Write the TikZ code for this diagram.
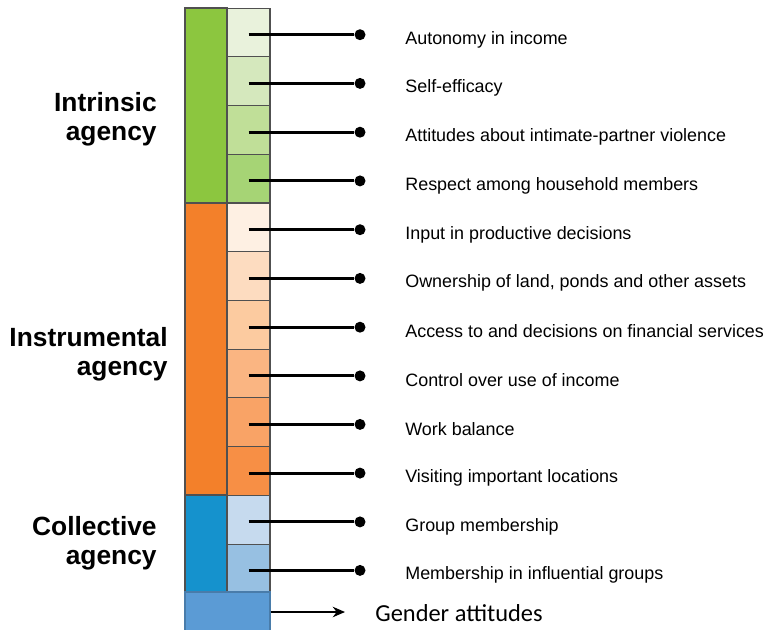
\documentclass[tikz,border=0pt]{standalone}
\usepackage{fontspec}
\setmainfont{Liberation Sans}
\newfontfamily\carlito{Carlito}
\usepackage{tikz}
\usetikzlibrary{arrows.meta}

\definecolor{greendark}{RGB}{140,198,63}
\definecolor{greenA}{RGB}{233,242,220}
\definecolor{greenB}{RGB}{213,232,189}
\definecolor{greenC}{RGB}{192,223,152}
\definecolor{greenD}{RGB}{166,212,117}
\definecolor{orangedark}{RGB}{243,128,42}
\definecolor{orangeA}{RGB}{254,240,227}
\definecolor{orangeB}{RGB}{253,220,192}
\definecolor{orangeC}{RGB}{252,203,160}
\definecolor{orangeD}{RGB}{250,181,130}
\definecolor{orangeE}{RGB}{249,163,102}
\definecolor{orangeF}{RGB}{247,143,69}
\definecolor{bluedark}{RGB}{21,146,205}
\definecolor{blueA}{RGB}{198,218,238}
\definecolor{blueB}{RGB}{151,192,226}
\definecolor{genderblue}{RGB}{91,155,213}
\definecolor{edgegray}{RGB}{80,80,80}

\tikzset{
    cellbox/.style={draw=edgegray, line width=0.6pt, inner sep=0pt,
        minimum width=0.86cm, minimum height=0.975cm},
    colbox/.style={draw=edgegray, line width=0.6pt, inner sep=0pt, minimum width=0.84cm},
    dotnode/.style={circle, fill=black, inner sep=0pt, minimum size=0.22cm},
    itemlabel/.style={anchor=west, inner sep=0pt, font=\fontsize{10.2}{12}\selectfont},
    agencylabel/.style={anchor=east, align=right, inner sep=0pt,
        font=\fontsize{15}{16.4}\selectfont\bfseries},
    link/.style={line width=1.7pt}
}

\begin{document}
\begin{tikzpicture}[x=0.02cm, y=-0.02cm, >={Stealth[length=7pt, width=6pt]}, node distance=0.975cm]
    \useasboundingbox (0,0) rectangle (764,629);

    % main columns
    \node[colbox, fill=greendark, minimum height=3.9cm] (green) at (206,105.5) {};
    \node[colbox, fill=orangedark, minimum height=5.84cm] (orange) at (206,349) {};
    \node[colbox, fill=bluedark, minimum height=1.94cm] (blue) at (206,543.5) {};

    % indicator cells
    \node[cellbox, fill=greenA] (r1) at (248.5,32.4) {};
    \node[cellbox, fill=greenB] (r2) [below of=r1] {};
    \node[cellbox, fill=greenC] (r3) [below of=r2] {};
    \node[cellbox, fill=greenD] (r4) [below of=r3] {};
    \node[cellbox, fill=orangeA] (r5) [below of=r4] {};
    \node[cellbox, fill=orangeB] (r6) [below of=r5] {};
    \node[cellbox, fill=orangeC] (r7) [below of=r6] {};
    \node[cellbox, fill=orangeD] (r8) [below of=r7] {};
    \node[cellbox, fill=orangeE] (r9) [below of=r8] {};
    \node[cellbox, fill=orangeF] (r10) [below of=r9] {};
    \node[cellbox, fill=blueA] (r11) [below of=r10] {};
    \node[cellbox, fill=blueB] (r12) [below of=r11] {};

    % dots
    \node[dotnode] (d1) at (360,34.7) {};
    \node[dotnode] (d2) at (360,83.4) {};
    \node[dotnode] (d3) at (360,132.2) {};
    \node[dotnode] (d4) at (360,180.9) {};
    \node[dotnode] (d5) at (360,229.7) {};
    \node[dotnode] (d6) at (360,278.4) {};
    \node[dotnode] (d7) at (360,327.2) {};
    \node[dotnode] (d8) at (360,375.9) {};
    \node[dotnode] (d9) at (360,424.4) {};
    \node[dotnode] (d10) at (360,473.1) {};
    \node[dotnode] (d11) at (360,521.9) {};
    \node[dotnode] (d12) at (360,570.4) {};

    \draw[link] (r1.center |- d1) -- (d1);
    \draw[link] (r2.center |- d2) -- (d2);
    \draw[link] (r3.center |- d3) -- (d3);
    \draw[link] (r4.center |- d4) -- (d4);
    \draw[link] (r5.center |- d5) -- (d5);
    \draw[link] (r6.center |- d6) -- (d6);
    \draw[link] (r7.center |- d7) -- (d7);
    \draw[link] (r8.center |- d8) -- (d8);
    \draw[link] (r9.center |- d9) -- (d9);
    \draw[link] (r10.center |- d10) -- (d10);
    \draw[link] (r11.center |- d11) -- (d11);
    \draw[link] (r12.center |- d12) -- (d12);

    % indicator labels
    \node[itemlabel] (t1) at (405,39.5) {Autonomy in income};
    \node[itemlabel] (t2) at (405,87.5) {Self-efficacy};
    \node[itemlabel] (t3) at (405,136.5) {Attitudes about intimate-partner violence};
    \node[itemlabel] (t4) at (405,185.5) {Respect among household members};
    \node[itemlabel] (t5) at (405,234.5) {Input in productive decisions};
    \node[itemlabel] (t6) at (405,282.5) {Ownership of land, ponds and other assets};
    \node[itemlabel] (t7) at (405,331.5) {Access to and decisions on financial services};
    \node[itemlabel] (t8) at (405,380.5) {Control over use of income};
    \node[itemlabel] (t9) at (405,429.5) {Work balance};
    \node[itemlabel] (t10) at (405,477.5) {Visiting important locations};
    \node[itemlabel] (t11) at (405,526.5) {Group membership};
    \node[itemlabel] (t12) at (405,574.5) {Membership in influential groups};

    % agency labels
    \node[agencylabel] (intrinsic) at (157,119.5) {Intrinsic\\agency};
    \node[agencylabel] (instrumental) at (168,354.5) {Instrumental\\agency};
    \node[agencylabel] (collective) at (157,543.5) {Collective\\agency};

    % gender attitudes
    \node[colbox, draw=genderblue!80!black, fill=genderblue, minimum width=1.7cm,
        minimum height=0.8cm] (gender) at (227.5,612) {};
    \coordinate (garrow) at (345,612);
    \draw[line width=0.8pt, ->] (gender.east) -- (garrow);
    \node[anchor=west, inner sep=0pt, font=\carlito\fontsize{13.9}{16}\selectfont] (gtext) at (375,613) {Gender attitudes};
\end{tikzpicture}
\end{document}
